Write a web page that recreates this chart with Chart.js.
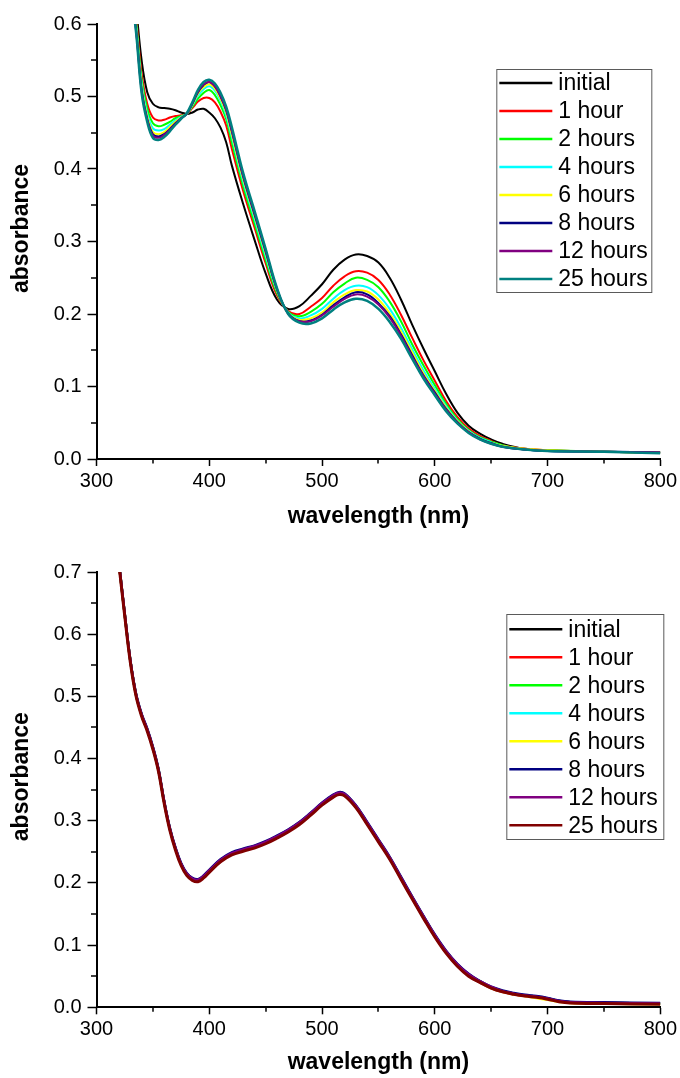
<!DOCTYPE html>
<html><head><meta charset="utf-8">
<script src="https://cdn.jsdelivr.net/npm/chart.js@4"></script>
<style>
html,body{margin:0;padding:0;background:#fff;}
canvas{display:block;}
</style></head><body>
<canvas id="c1" width="680" height="540"></canvas>
<canvas id="c2" width="680" height="538"></canvas>
<script>
// ---------- DATA ----------
const seriesLabels = ['initial','1 hour','2 hours','4 hours','6 hours','8 hours','12 hours','25 hours'];
const topColors = ['#000000','#ff0000','#00ff00','#00ffff','#ffff00','#000080','#800080','#008080'];
const botColors = ['#000000','#ff0000','#00ff00','#00ffff','#ffff00','#000080','#800080','#800000'];

const xTickLabels = [300,400,500,600,700,800];
const xMinorTicks = [350,450,550,650,750];
const yTicksTop = [0.0,0.1,0.2,0.3,0.4,0.5,0.6];
const yMinorTop = [0.05,0.15,0.25,0.35,0.45,0.55];
const yTicksBot = [0.0,0.1,0.2,0.3,0.4,0.5,0.6,0.7];
const yMinorBot = [0.05,0.15,0.25,0.35,0.45,0.55,0.65];

// Top panel
const wlTop = [330,335,340,345,350,355,360,365,370,375,380,385,390,395,400,405,410,415,420,430,440,450,460,470,480,490,500,510,520,530,540,550,560,570,580,590,600,610,620,630,640,650,660,680,700,750,800];
const topInitial = [0.69,0.625,0.55,0.506,0.490,0.485,0.484,0.483,0.481,0.478,0.476,0.478,0.482,0.483,0.478,0.470,0.457,0.437,0.405,0.352,0.303,0.256,0.220,0.207,0.211,0.225,0.241,0.261,0.275,0.282,0.280,0.271,0.250,0.220,0.185,0.152,0.121,0.090,0.064,0.046,0.035,0.027,0.021,0.014,0.012,0.010,0.009];
const top1h = [0.674,0.611,0.532,0.490,0.471,0.467,0.468,0.471,0.473,0.474,0.476,0.484,0.493,0.498,0.498,0.492,0.479,0.460,0.428,0.370,0.320,0.270,0.226,0.204,0.200,0.210,0.222,0.239,0.252,0.259,0.257,0.247,0.227,0.199,0.167,0.136,0.108,0.080,0.058,0.042,0.032,0.025,0.019,0.014,0.012,0.010,0.009];
const top2h = [0.667,0.605,0.524,0.483,0.463,0.459,0.461,0.465,0.470,0.473,0.476,0.486,0.497,0.505,0.509,0.502,0.488,0.469,0.437,0.377,0.326,0.275,0.229,0.203,0.197,0.203,0.214,0.230,0.242,0.250,0.247,0.237,0.217,0.190,0.158,0.129,0.102,0.076,0.055,0.040,0.030,0.024,0.019,0.013,0.012,0.010,0.009];
const top4h = [0.661,0.600,0.518,0.476,0.456,0.453,0.455,0.461,0.467,0.472,0.476,0.488,0.501,0.510,0.514,0.508,0.494,0.474,0.444,0.383,0.332,0.280,0.232,0.202,0.194,0.198,0.207,0.221,0.233,0.239,0.237,0.226,0.207,0.181,0.151,0.122,0.097,0.073,0.053,0.039,0.029,0.023,0.018,0.013,0.011,0.010,0.009];
const top6h = [0.657,0.596,0.513,0.472,0.451,0.448,0.451,0.458,0.465,0.471,0.476,0.489,0.504,0.513,0.517,0.511,0.497,0.478,0.448,0.387,0.336,0.284,0.233,0.201,0.192,0.194,0.202,0.216,0.227,0.233,0.231,0.220,0.201,0.176,0.147,0.118,0.094,0.071,0.052,0.038,0.028,0.022,0.018,0.014,0.012,0.010,0.009];
const top8h = [0.654,0.594,0.510,0.469,0.448,0.445,0.448,0.455,0.463,0.470,0.476,0.490,0.506,0.516,0.520,0.514,0.500,0.481,0.452,0.390,0.338,0.286,0.234,0.201,0.190,0.191,0.199,0.212,0.223,0.230,0.227,0.215,0.197,0.172,0.143,0.115,0.092,0.069,0.051,0.037,0.028,0.022,0.017,0.013,0.011,0.010,0.009];
const top12h = [0.653,0.592,0.508,0.468,0.446,0.443,0.447,0.454,0.462,0.470,0.476,0.491,0.507,0.517,0.520,0.514,0.501,0.482,0.453,0.391,0.340,0.288,0.235,0.200,0.190,0.190,0.198,0.210,0.221,0.227,0.224,0.213,0.195,0.170,0.141,0.114,0.090,0.068,0.050,0.037,0.027,0.021,0.017,0.013,0.011,0.010,0.009];
const top25h = [0.65,0.59,0.505,0.465,0.443,0.440,0.444,0.452,0.461,0.469,0.477,0.492,0.509,0.520,0.523,0.518,0.505,0.486,0.458,0.395,0.343,0.290,0.236,0.200,0.188,0.187,0.194,0.206,0.216,0.221,0.218,0.207,0.189,0.166,0.138,0.111,0.088,0.066,0.049,0.036,0.027,0.021,0.017,0.013,0.011,0.010,0.008];

// Bottom panel
const wlBot = [318,320,325,330,335,340,345,350,355,360,365,370,375,380,385,390,395,400,410,420,430,440,450,460,470,480,490,500,510,515,520,530,540,550,560,570,580,590,600,610,620,630,640,650,660,670,680,690,700,710,720,750,800];
const botInitial = [0.745,0.712,0.632,0.557,0.503,0.470,0.446,0.417,0.381,0.330,0.287,0.255,0.230,0.214,0.206,0.204,0.210,0.219,0.236,0.247,0.253,0.258,0.265,0.274,0.284,0.296,0.311,0.327,0.340,0.344,0.342,0.323,0.296,0.268,0.240,0.208,0.176,0.145,0.115,0.089,0.068,0.052,0.041,0.032,0.026,0.022,0.019,0.017,0.014,0.010,0.008,0.007,0.006];
const bot1h = [0.745,0.712,0.632,0.557,0.503,0.470,0.446,0.417,0.381,0.330,0.287,0.255,0.230,0.214,0.206,0.203,0.209,0.218,0.235,0.246,0.252,0.257,0.264,0.273,0.283,0.295,0.310,0.326,0.339,0.343,0.341,0.322,0.295,0.267,0.239,0.207,0.175,0.144,0.114,0.088,0.067,0.051,0.040,0.031,0.025,0.021,0.018,0.016,0.013,0.010,0.008,0.007,0.006];
const bot2h = [0.746,0.713,0.633,0.558,0.504,0.471,0.447,0.418,0.382,0.331,0.288,0.256,0.231,0.215,0.207,0.205,0.211,0.220,0.237,0.248,0.254,0.259,0.266,0.275,0.285,0.297,0.312,0.328,0.341,0.345,0.343,0.324,0.297,0.269,0.241,0.209,0.177,0.146,0.116,0.090,0.069,0.053,0.042,0.032,0.026,0.022,0.019,0.017,0.014,0.010,0.008,0.007,0.006];
const bot4h = [0.745,0.712,0.632,0.557,0.503,0.470,0.446,0.417,0.381,0.330,0.287,0.255,0.230,0.214,0.206,0.204,0.210,0.219,0.236,0.247,0.253,0.258,0.265,0.274,0.284,0.296,0.311,0.327,0.340,0.344,0.342,0.323,0.296,0.268,0.240,0.208,0.176,0.145,0.115,0.089,0.068,0.052,0.041,0.032,0.026,0.022,0.019,0.017,0.014,0.010,0.008,0.007,0.006];
const bot6h = [0.745,0.712,0.632,0.557,0.503,0.470,0.446,0.417,0.381,0.330,0.287,0.255,0.230,0.214,0.206,0.204,0.210,0.219,0.236,0.247,0.253,0.258,0.265,0.274,0.284,0.296,0.311,0.327,0.340,0.344,0.342,0.323,0.296,0.268,0.240,0.208,0.176,0.145,0.115,0.089,0.068,0.052,0.041,0.031,0.025,0.021,0.018,0.015,0.012,0.009,0.007,0.006,0.005];
const bot8h = [0.747,0.714,0.634,0.559,0.505,0.472,0.448,0.419,0.383,0.332,0.289,0.257,0.232,0.216,0.208,0.206,0.212,0.221,0.238,0.249,0.255,0.260,0.267,0.276,0.286,0.298,0.313,0.329,0.342,0.346,0.344,0.325,0.298,0.270,0.242,0.210,0.178,0.147,0.117,0.091,0.070,0.054,0.042,0.033,0.027,0.023,0.020,0.018,0.015,0.011,0.009,0.008,0.007];
const bot12h = [0.746,0.713,0.633,0.558,0.504,0.471,0.447,0.418,0.382,0.331,0.288,0.256,0.231,0.215,0.207,0.205,0.211,0.220,0.237,0.248,0.254,0.259,0.266,0.275,0.285,0.297,0.312,0.328,0.341,0.345,0.343,0.324,0.297,0.269,0.241,0.209,0.177,0.146,0.116,0.090,0.069,0.053,0.042,0.033,0.026,0.022,0.019,0.017,0.014,0.010,0.008,0.007,0.006];
const bot25h = [0.743,0.710,0.630,0.555,0.501,0.468,0.444,0.415,0.379,0.328,0.285,0.253,0.228,0.212,0.204,0.202,0.208,0.217,0.234,0.245,0.251,0.256,0.263,0.272,0.282,0.294,0.309,0.325,0.338,0.342,0.340,0.321,0.294,0.266,0.238,0.206,0.174,0.143,0.113,0.087,0.066,0.050,0.040,0.031,0.025,0.021,0.018,0.016,0.013,0.009,0.007,0.006,0.005];

// ---------- RENDER ----------
const FONT = '"Liberation Sans", Arial, sans-serif';

const minorTicksPlugin = {
  id: 'minorTicks',
  afterDraw(chart, args, o) {
    const ctx = chart.ctx, xs = chart.scales.x, ys = chart.scales.y;
    ctx.save();
    ctx.strokeStyle = '#000';
    ctx.lineWidth = 1.5;
    ctx.beginPath();
    o.xMinor.forEach(v => { const p = Math.round(xs.getPixelForValue(v)); ctx.moveTo(p, ys.bottom); ctx.lineTo(p, ys.bottom + 4.5); });
    o.yMinor.forEach(v => { const p = Math.round(ys.getPixelForValue(v)); ctx.moveTo(xs.left, p); ctx.lineTo(xs.left - 5.5, p); });
    ctx.stroke();
    // y axis title (slightly above the centre of the axis, as in the original)
    const ca = chart.chartArea;
    ctx.translate(o.titleX, (ca.top + ca.bottom) / 2 + o.titleDy);
    ctx.rotate(-Math.PI / 2);
    ctx.font = 'bold 23px ' + FONT;
    ctx.fillStyle = '#000';
    ctx.textAlign = 'center';
    ctx.textBaseline = 'middle';
    ctx.fillText(o.yTitle, 0, 0);
    ctx.restore();
  }
};

const boxLegendPlugin = {
  id: 'boxLegend',
  afterDraw(chart, args, o) {
    const ctx = chart.ctx, ca = chart.chartArea;
    const left = ca.right + o.dx, top = ca.top + o.dy;
    ctx.save();
    ctx.fillStyle = '#fff';
    ctx.fillRect(left, top, o.w, o.h);
    ctx.strokeStyle = '#5a5a5a';
    ctx.lineWidth = 1;
    ctx.strokeRect(left + 0.5, top + 0.5, o.w, o.h);
    ctx.font = '23px ' + FONT;
    ctx.textBaseline = 'middle';
    ctx.fillStyle = '#000';
    chart.data.datasets.forEach((ds, i) => {
      const cy = top + o.first + i * o.step;
      ctx.strokeStyle = ds.borderColor;
      ctx.lineWidth = 2.5;
      ctx.beginPath();
      ctx.moveTo(left + 3, cy); ctx.lineTo(left + 56, cy);
      ctx.stroke();
      ctx.fillText(ds.label, left + 62, cy + 1);
    });
    ctx.restore();
  }
};

function makeChart(id, wl, arrays, colors, yMax, yMinor, xTitleBottom, xScaleH, padTop, legendOpts, lw) {
  const n = arrays.length;
  const datasets = arrays.map((arr, i) => ({
    label: seriesLabels[i],
    data: wl.map((w, k) => ({ x: w, y: arr[k] })),
    borderColor: colors[i],
    backgroundColor: colors[i],
    borderWidth: (i === n - 1) ? lw + 0.5 : lw,
    pointRadius: 0,
    tension: 0.4,
    fill: false,
    order: n - 1 - i
  }));
  return new Chart(document.getElementById(id), {
    type: 'line',
    data: { datasets },
    options: {
      responsive: false,
      animation: false,
      devicePixelRatio: 1,
      layout: { padding: { left: 0, right: 19, top: padTop, bottom: 0 } },
      plugins: {
        legend: { display: false },
        tooltip: { enabled: false },
        minorTicks: { xMinor: xMinorTicks, yMinor: yMinor, yTitle: 'absorbance', titleX: 22, titleDy: -13 },
        boxLegend: legendOpts
      },
      scales: {
        x: {
          type: 'linear', min: 300, max: 800,
          afterBuildTicks: s => { s.ticks = xTickLabels.map(v => ({ value: v })); },
          ticks: { color: '#000', font: { family: FONT, size: 20 }, padding: 3, maxRotation: 0, autoSkip: false },
          grid: { display: true, drawOnChartArea: false, drawTicks: true, tickLength: 7, tickColor: '#000', tickWidth: 1.5 },
          border: { display: true, color: '#000', width: 2 },
          title: { display: true, text: 'wavelength (nm)', color: '#000', font: { family: FONT, size: 23, weight: 'bold' }, padding: { top: 0, bottom: xTitleBottom } },
          afterFit: s => { s.height = xScaleH; }
        },
        y: {
          type: 'linear', min: 0, max: yMax,
          afterBuildTicks: s => { s.ticks = (yMax > 0.65 ? yTicksBot : yTicksTop).map(v => ({ value: v })); },
          ticks: { color: '#000', font: { family: FONT, size: 20 }, padding: 6, callback: v => Number(v).toFixed(1) },
          grid: { display: true, drawOnChartArea: false, drawTicks: true, tickLength: 9, tickColor: '#000', tickWidth: 1.5 },
          border: { display: true, color: '#000', width: 2 },
          title: { display: false },
          afterFit: s => { s.width = 96.5; }
        }
      }
    },
    plugins: [minorTicksPlugin, boxLegendPlugin]
  });
}

makeChart('c1', wlTop, [topInitial, top1h, top2h, top4h, top6h, top8h, top12h, top25h], topColors, 0.6, yMinorTop, 10, 81, 24,
  { dx: -164, dy: 45, w: 155, h: 223, first: 14, step: 28 }, 2);
makeChart('c2', wlBot, [botInitial, bot1h, bot2h, bot4h, bot6h, bot8h, bot12h, bot25h], botColors, 0.7, yMinorBot, 2, 70.7, 32,
  { dx: -154, dy: 42, w: 157, h: 225, first: 15.3, step: 28 }, 2.5);
</script></body></html>
